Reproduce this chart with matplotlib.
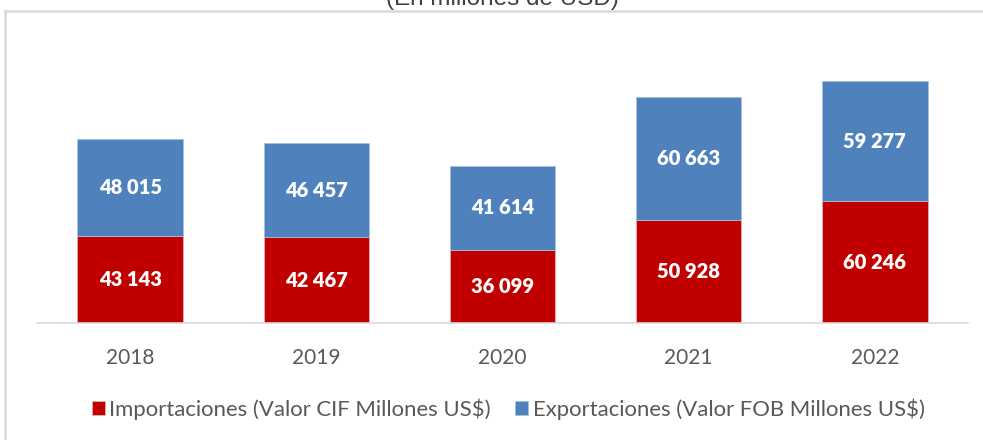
import matplotlib.pyplot as plt
from matplotlib.lines import Line2D
import numpy as np

years = ["2018", "2019", "2020", "2021", "2022"]
importaciones = [43143, 42467, 36099, 50928, 60246]
exportaciones = [48015, 46457, 41614, 60663, 59277]

rojo = "#C00000"
azul = "#4F81BD"


def fmt(v):
    # separador de miles con espacio
    return f"{v:,}".replace(",", " ")


fig = plt.figure(figsize=(9.83, 4.40), dpi=100)
ax = fig.add_axes([37 / 983, 1 - 323 / 440, 931 / 983, 283 / 440])

x = np.arange(len(years))
b1 = ax.bar(x, importaciones, width=0.565, color=rojo, edgecolor="#E8B0B0",
            linewidth=0.6, label="Importaciones (Valor CIF Millones US$)")
b2 = ax.bar(x, exportaciones, width=0.565, bottom=importaciones, color=azul,
            edgecolor="#A9C0DE", linewidth=0.6,
            label="Exportaciones (Valor FOB Millones US$)")

for bars, vals, base in [(b1, importaciones, [0] * 5), (b2, exportaciones, importaciones)]:
    for xi, v, b in zip(x, vals, base):
        ax.text(xi, b + v / 2, fmt(v), ha="center", va="center", color="white",
                fontsize=14.5, fontweight="heavy", family=["Lato", "DejaVu Sans"])

ax.set_xlim(-0.5, 4.5)
ax.set_ylim(0, 140000)
ax.set_xticks(x)
ax.set_xticklabels(years, fontsize=15, color="#595959", family=["Lato", "DejaVu Sans"])
ax.tick_params(axis="x", length=0, pad=18)
ax.set_yticks([])
for s in ["top", "right", "left"]:
    ax.spines[s].set_visible(False)
ax.spines["bottom"].set_color("#D9D9D9")
ax.spines["bottom"].set_linewidth(1.2)

# marco del grafico (solo borde superior e izquierdo visibles)
fig.add_artist(Line2D([5 / 983, 1.0], [1 - 11 / 440, 1 - 11 / 440], color="#D9D9D9", lw=1.8))
fig.add_artist(Line2D([5 / 983, 5 / 983], [0, 1 - 11 / 440], color="#D9D9D9", lw=1.8))

fig.text(0.511, 1 - 5 / 440, "(En millones de USD)", ha="center", va="baseline",
         fontsize=17.5, color="#404040", family="Liberation Sans")

leg = fig.legend(handles=[b1, b2], loc="center", bbox_to_anchor=(0.517, 1 - 409 / 440),
                 ncol=2, frameon=False, handlelength=0.6, handleheight=0.6,
                 handletextpad=0.2, columnspacing=1.1,
                 prop={"family": ["Lato", "DejaVu Sans"], "size": 15.9})
for t in leg.get_texts():
    t.set_color("#595959")

plt.savefig("out.png", dpi=100)
